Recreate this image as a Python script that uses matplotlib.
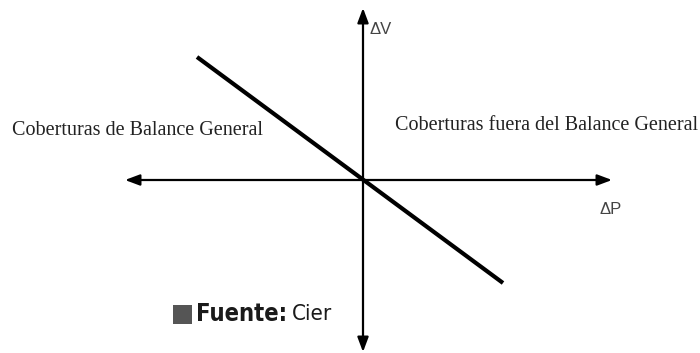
import matplotlib
matplotlib.use("Agg")
import matplotlib.pyplot as plt
from matplotlib.patches import Rectangle

# Data (diagram units, origin at the axes crossing)
delta_p = [-166, 140]          # ΔP values of the hedge line end points
delta_v = [123, -103]          # ΔV values of the hedge line end points
axis_p_range = [-238, 249]     # extent of the ΔP axis
axis_v_range = [-172, 172]     # extent of the ΔV axis
label_left = "Coberturas de Balance General"
label_right = "Coberturas fuera del Balance General"
label_v = "ΔV"
label_p = "ΔP"
source_bold = "Fuente:"
source_text = "Cier"

fig = plt.figure(figsize=(7.0, 3.53), dpi=100)
ax = fig.add_axes([0, 0, 1, 1])
ax.set_xlim(-363, 337)
ax.set_ylim(-173, 180)
ax.axis("off")

arrow_kw = dict(arrowstyle="<|-|>,head_length=0.8,head_width=0.3", color="black", lw=1.6,
                mutation_scale=11, shrinkA=0, shrinkB=0)
ax.annotate("", xy=(axis_p_range[1], 0), xytext=(axis_p_range[0], 0),
            arrowprops=arrow_kw)
ax.annotate("", xy=(0, axis_v_range[1]), xytext=(0, axis_v_range[0]),
            arrowprops=arrow_kw)

ax.plot(delta_p, delta_v, color="black", lw=3.0, solid_capstyle="butt")

serif = ["Liberation Serif", "DejaVu Serif"]
ax.text(-351, 49, label_left, family=serif, fontsize=14.5, color="#222222",
        ha="left", va="center")
ax.text(32, 54, label_right, family=serif, fontsize=14.5, color="#222222",
        ha="left", va="center")

ax.text(7, 150, label_v, family=["Liberation Sans", "DejaVu Sans"], fontsize=12,
        color="#444444", ha="left", va="center")
ax.text(237, -30, label_p, family=["Liberation Sans", "DejaVu Sans"], fontsize=12,
        color="#444444", ha="left", va="center")

# Source note
ax.add_patch(Rectangle((-190, -144), 19, 19, facecolor="#555555", edgecolor="none"))
ax.text(-167, -134, source_bold, family="DejaVu Sans", stretch="condensed",
        fontsize=17, fontweight="heavy", color="#1a1a1a", ha="left", va="center")
ax.text(-71, -134, source_text, family="DejaVu Sans", stretch="condensed",
        fontsize=16, color="#1a1a1a", ha="left", va="center")

fig.savefig("out.png", dpi=100)
